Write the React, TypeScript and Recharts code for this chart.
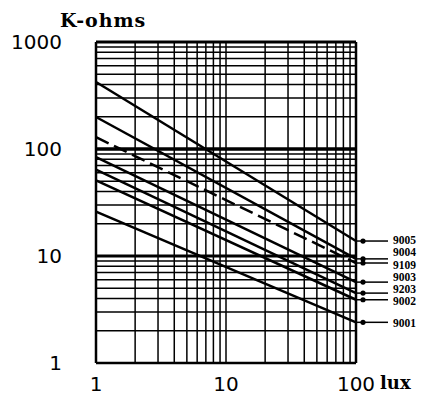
import { LineChart, Line, XAxis, YAxis, CartesianGrid, ReferenceLine } from "recharts"

// log grid ticks (labels only on decades)
const luxTicks = [1, 2, 3, 4, 5, 6, 7, 8, 9, 10, 20, 30, 40, 50, 60, 70, 80, 90, 100]
const ohmTicks = [
  1, 2, 3, 4, 5, 6, 7, 8, 9, 10, 20, 30, 40, 50, 60, 70, 80, 90, 100, 200, 300, 400, 500, 600, 700, 800, 900, 1000,
]
const luxLabels = [1, 10, 100]
const ohmLabels = [1, 10, 100, 1000]

// cell part numbers, resistance (K-ohms) at 1 lux and at 100 lux
const parts = ["9005", "9004", "9109", "9003", "9203", "9002", "9001"]
const at1Lux = [423, 199, 129, 84, 64, 51, 26]
const at100Lux = [13.8, 9.4, 8.6, 5.7, 4.5, 3.9, 2.4]
const dashedParts = ["9109"]

// small vertical shift of the part label against its leader
const labelNudge = [-1, -7, 2, -5, -4, 1, 1]

const series = parts.map((part, i) => ({
  part,
  points: [
    { lux: 1, kohm: at1Lux[i] },
    { lux: 100, kohm: at100Lux[i] },
  ],
}))

function endLabel(part: string, nudge: number) {
  return (props: any) => {
    const { x, y, index } = props
    if (index !== 1) return <g />
    return (
      <g>
        <line x1={x} y1={y} x2={x + 32} y2={y} stroke="#000" strokeWidth={1.5} />
        <circle cx={x + 7} cy={y} r={2.6} fill="#000" />
        <text
          x={x + 37}
          y={y + nudge}
          dominantBaseline="central"
          fontFamily="Liberation Serif"
          fontWeight="bold"
          fontSize={11.5}
          fill="#000"
        >
          {part}
        </text>
      </g>
    )
  }
}

export default function App() {
  return (
    <div style={{ position: "absolute", left: 0, top: 0, width: 437, height: 403, background: "#fff" }}>
      <div
        style={{
          position: "absolute",
          left: 60,
          top: 9,
          fontFamily: "DejaVu Serif",
          fontWeight: "bold",
          fontSize: 19,
          letterSpacing: 1,
          color: "#000",
        }}
      >
        K-ohms
      </div>
      <div
        style={{
          position: "absolute",
          left: 380,
          top: 372,
          fontFamily: "DejaVu Serif",
          fontWeight: "bold",
          fontSize: 18,
          color: "#000",
        }}
      >
        lux
      </div>
      <LineChart width={437} height={403} margin={{ top: 42, right: 81, left: 0, bottom: 0 }}>
        <CartesianGrid stroke="#000" strokeWidth={1.5} />
        <XAxis
          dataKey="lux"
          type="number"
          scale="log"
          domain={[1, 100]}
          ticks={luxTicks}
          interval={0}
          height={40}
          axisLine={false}
          tickLine={false}
          tickMargin={8}
          tick={{ fontSize: 20, fill: "#000", fontFamily: "DejaVu Sans" }}
          tickFormatter={(v: number) => (luxLabels.includes(v) ? String(v) : "")}
          allowDuplicatedCategory={false}
        />
        <YAxis
          type="number"
          scale="log"
          domain={[1, 1000]}
          ticks={ohmTicks}
          interval={0}
          width={96}
          axisLine={false}
          tickLine={false}
          tickMargin={28}
          tick={{ fontSize: 20, fill: "#000", fontFamily: "DejaVu Sans" }}
          tickFormatter={(v: number) => (ohmLabels.includes(v) ? String(v) : "")}
        />
        <ReferenceLine y={10} stroke="#000" strokeWidth={3} />
        <ReferenceLine y={100} stroke="#000" strokeWidth={3.5} />
        <ReferenceLine y={1000} stroke="#000" strokeWidth={3} />
        <ReferenceLine y={1} stroke="#000" strokeWidth={2.5} />
        <ReferenceLine x={1} stroke="#000" strokeWidth={2.5} />
        <ReferenceLine x={100} stroke="#000" strokeWidth={2.5} />
        {series.map((s, i) => (
          <Line
            key={s.part}
            data={s.points}
            dataKey="kohm"
            type="linear"
            stroke="#000"
            strokeWidth={2.5}
            strokeDasharray={dashedParts.includes(s.part) ? "14 6" : undefined}
            dot={false}
            activeDot={false}
            isAnimationActive={false}
            label={endLabel(s.part, labelNudge[i])}
          />
        ))}
      </LineChart>
    </div>
  )
}
